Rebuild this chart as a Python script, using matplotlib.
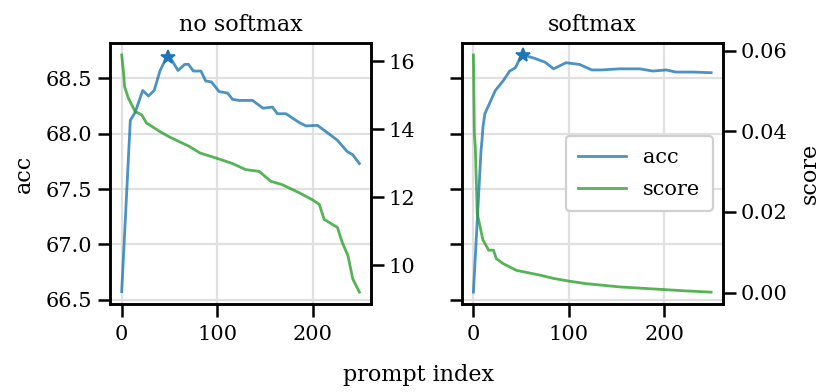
"""Prompt-index sweep: accuracy vs. score, with and without softmax."""

import numpy as np
import matplotlib

matplotlib.use("Agg")
import matplotlib.pyplot as plt

# ---- data ----
nosm_acc_x = [0, 9, 14, 22, 28, 34, 40, 45, 49, 52, 59, 66, 70, 75, 83, 88, 94, 102, 111, 116,
              123, 137, 148, 158, 163, 172, 186, 193, 205, 216, 226, 236, 242, 249]
nosm_acc = [66.575, 68.12, 68.19, 68.39, 68.34, 68.39, 68.565, 68.655, 68.69, 68.67, 68.57, 68.625,
            68.625, 68.565, 68.565, 68.475, 68.467, 68.38, 68.366, 68.31, 68.30, 68.30, 68.23,
            68.24, 68.18, 68.18, 68.10, 68.07, 68.075, 68.005, 67.94, 67.84, 67.81, 67.73]

nosm_score_x = [0, 2, 3, 7, 14, 21, 26, 40, 50, 71, 82, 99, 116, 130, 144, 156, 168, 186, 200,
                207, 212, 226, 231, 237, 242, 249]
nosm_score = [16.18, 15.64, 15.25, 14.91, 14.52, 14.42, 14.18, 13.93, 13.77, 13.49, 13.30, 13.15,
              12.99, 12.81, 12.76, 12.47, 12.37, 12.13, 11.92, 11.79, 11.35, 11.11, 10.67, 10.28,
              9.60, 9.21]

sm_acc_x = [0, 8, 9, 10, 12, 23, 31, 38, 44, 49, 52, 64, 75, 84, 97, 111, 124, 134, 153, 174,
            188, 202, 212, 230, 249]
sm_acc = [66.57, 67.85, 67.94, 68.06, 68.18, 68.39, 68.475, 68.565, 68.595, 68.685, 68.71, 68.68,
          68.645, 68.585, 68.64, 68.625, 68.575, 68.575, 68.585, 68.585, 68.565, 68.575, 68.556,
          68.556, 68.55]

sm_score_x = [0, 1, 2, 4, 7, 10, 16, 21, 24, 31, 45, 70, 84, 101, 118, 136, 153, 188, 223, 249]
sm_score = [0.0589, 0.0394, 0.0361, 0.0196, 0.0163, 0.0130, 0.0105, 0.0105, 0.0084, 0.0072,
            0.0055, 0.0043, 0.0035, 0.0028, 0.0022, 0.0018, 0.0014, 0.0009, 0.0004, 0.0001]

titles = ["no softmax", "softmax"]
acc_ticks = [66.5, 67.0, 67.5, 68.0, 68.5]

plt.rcParams.update({
    "font.family": ["DejaVu Serif"],
    "font.size": 15,
    "axes.linewidth": 1.8,
    "xtick.major.width": 1.8,
    "ytick.major.width": 1.8,
    "xtick.major.size": 9,
    "ytick.major.size": 9,
    "xtick.major.pad": 6,
    "ytick.major.pad": 3.5,
})

acc_color = "tab:blue"
score_color = "tab:green"

fig, axes = plt.subplots(1, 2, figsize=(8.32, 3.92), dpi=100, sharey=True)
fig.subplots_adjust(left=0.132, right=0.869, bottom=0.2245, top=0.890, wspace=0.345)

panels = [
    (nosm_acc_x, nosm_acc, nosm_score_x, nosm_score),
    (sm_acc_x, sm_acc, sm_score_x, sm_score),
]

for i, (ax, (ax_x, acc, sc_x, score)) in enumerate(zip(axes, panels)):
    ax.grid(True, color="#e0e0e0", linewidth=1.6)
    ax.set_axisbelow(True)
    (l_acc,) = ax.plot(ax_x, acc, color=acc_color, alpha=0.8, lw=2.0, label="acc")
    # mark the best prompt
    best = int(np.argmax(acc))
    ax.plot(ax_x[best], acc[best], marker="*", color=acc_color, ms=10, mew=1.2, lw=0)

    ax2 = ax.twinx()
    (l_sc,) = ax2.plot(sc_x, score, color=score_color, alpha=0.8, lw=2.0, label="score")
    ax.set_title(titles[i], pad=9, fontsize=16)
    ax.set_xticks([0, 100, 200])
    ax.set_yticks(acc_ticks)

    if i == 0:
        ax.set_ylabel("acc", fontsize=16, labelpad=8)
        ax2.set_yticks([10, 12, 14, 16])
    else:
        ax2.set_yticks([0.0, 0.02, 0.04, 0.06])
        ax2.set_ylabel("score", fontsize=16, labelpad=8)
        leg = ax2.legend([l_acc, l_sc], ["acc", "score"], loc="center right",
                         handlelength=2.3, fancybox=True, framealpha=1.0,
                         edgecolor="#d0d0d0", borderpad=0.6, labelspacing=0.6, fontsize=15)
        leg.get_frame().set_linewidth(1.6)

fig.text(0.503, 0.028, "prompt index", ha="center", va="baseline", fontsize=16)

fig.savefig("out.png", dpi=100)
